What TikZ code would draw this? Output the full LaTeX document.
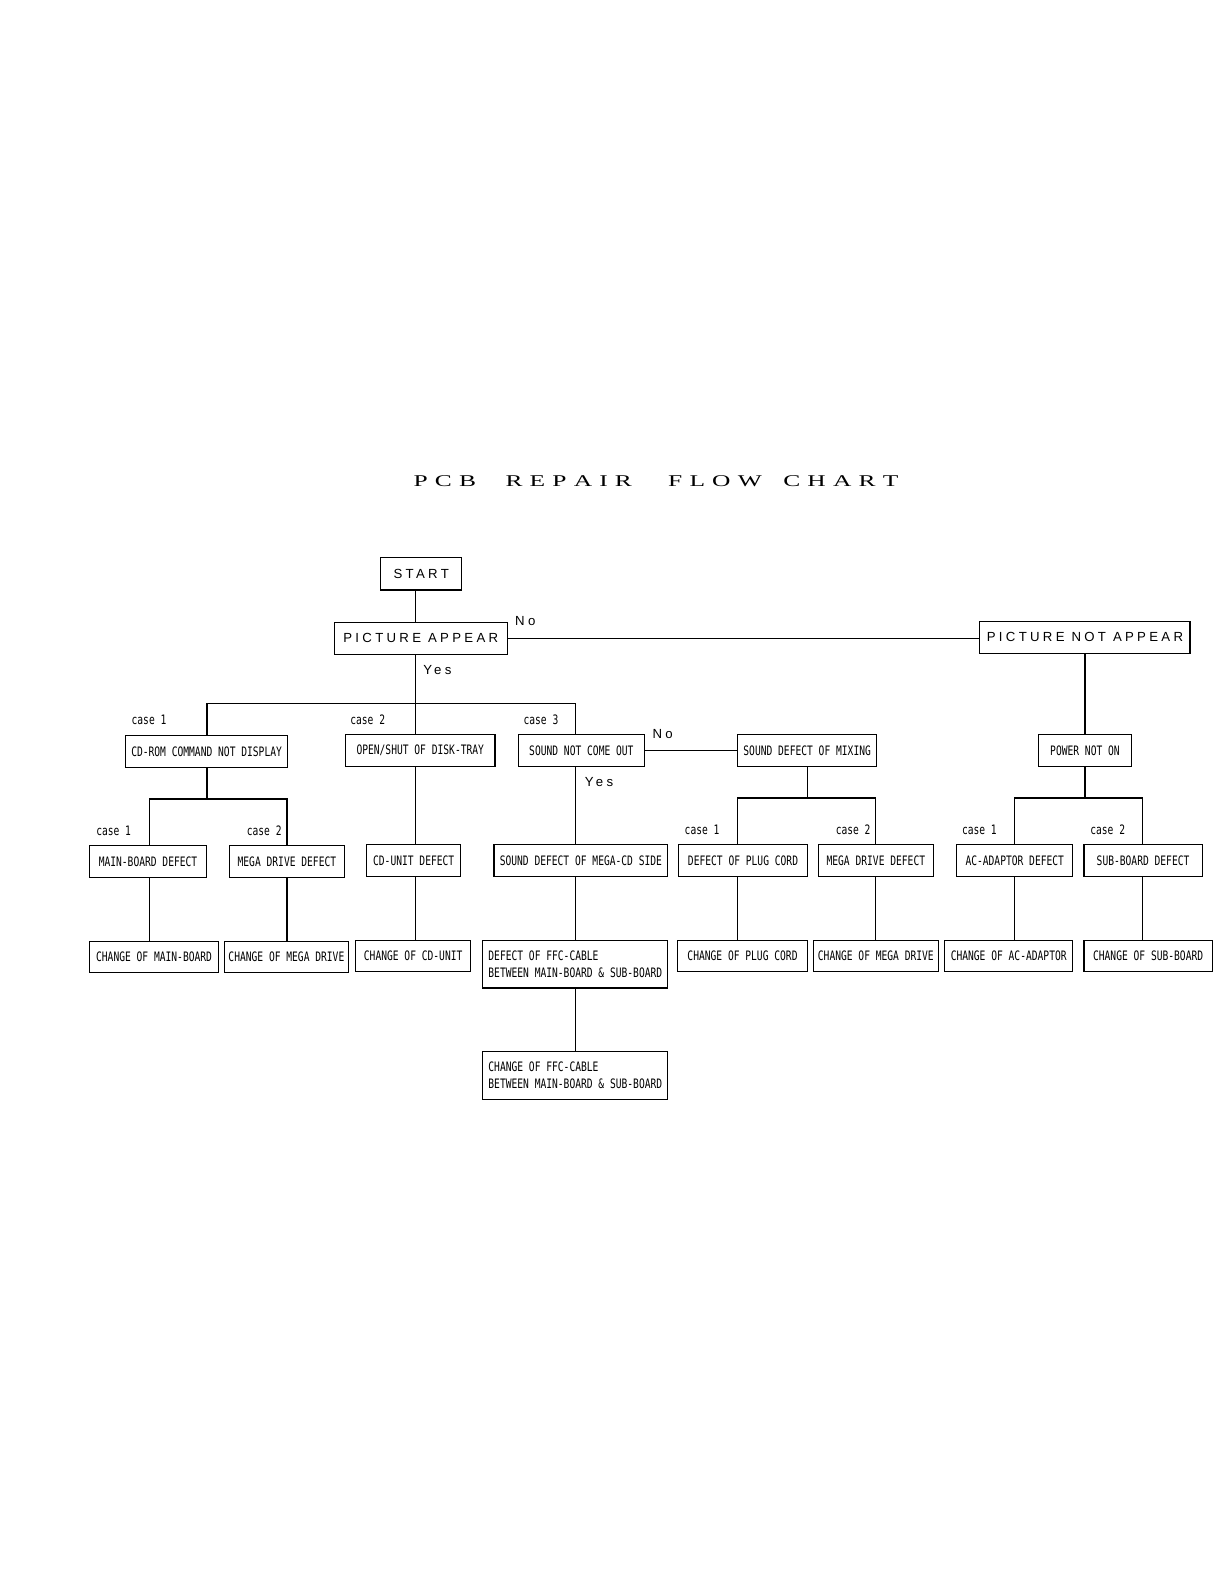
\documentclass[tikz,border=0pt]{standalone}
\usepackage{fontspec}
\newfontfamily\boxfont[FakeStretch=0.74]{DejaVu Sans Mono}
\newfontfamily\spfont[LetterSpace=25]{Liberation Sans}
\newfontfamily\ttlfont{Liberation Serif}
\def\pxu{0.50495pt}
\newcommand\tlet[1]{\scalebox{1.55}[1]{#1}}
\newcommand\tgap{\hskip 3.6pt}
\tikzset{
  box/.style={draw, line width=0.55pt, inner sep=0pt, font=\boxfont\fontsize{6.5}{8.3}\selectfont},
  lbl/.style={inner sep=0pt, font=\boxfont\fontsize{6.5}{8}\selectfont},
  sp/.style={inner sep=0pt, font=\spfont\fontsize{6.6}{8}\selectfont},
  ttl/.style={inner sep=0pt, anchor=base west, font=\ttlfont\fontsize{8.2}{10}\selectfont},
  conn/.style={line width=0.6pt}
}
\newcommand\bx[7][]{\node[box,#1,minimum width={(#5-#3)*\pxu},minimum height={(#6-#4)*\pxu}] (#2) at ({(#3+#5)/2},{(#4+#6)/2}) {#7};}
\begin{document}
\begin{tikzpicture}[x=\pxu,y=-\pxu]
\useasboundingbox[fill=white] (0,0) rectangle (1212,1568);
% title
\node[ttl] (t1) at (409,482) {\tlet{P}\tgap\tlet{C}\tgap\tlet{B}};
\node[ttl] (t2) at (500,482) {\tlet{R}\tgap\tlet{E}\tgap\tlet{P}\tgap\tlet{A}\tgap\tlet{I}\tgap\tlet{R}};
\node[ttl] (t3) at (661,482) {\tlet{F}\tgap\tlet{L}\tgap\tlet{O}\tgap\tlet{W}};
\node[ttl] (t4) at (775,482) {\tlet{C}\tgap\tlet{H}\tgap\tlet{A}\tgap\tlet{R}\tgap\tlet{T}};
% column / bus coordinates
\coordinate (c148) at (148,0); \coordinate (c205) at (205,0);
\coordinate (c284) at (284,0); \coordinate (c411) at (411,0);
\coordinate (c570) at (570,0); \coordinate (c730) at (730,0);
\coordinate (c799) at (799,0); \coordinate (c867) at (867,0);
\coordinate (c1004) at (1004,0); \coordinate (c1074) at (1074,0);
\coordinate (c1131) at (1131,0);
\coordinate (b1) at (0,696); \coordinate (b2) at (0,791); \coordinate (b3) at (0,790);
% boxes
\bx[font=\spfont\fontsize{6.6}{8}\selectfont]{start}{377}{552}{457}{584}{START}
\bx[font=\spfont\fontsize{6.6}{8}\selectfont]{pa}{331}{616}{502}{648}{PICTURE APPEAR}
\bx[font=\spfont\fontsize{6.6}{8}\selectfont]{pna}{970}{615}{1178}{647}{PICTURE NOT APPEAR}
\bx{cdrom}{124}{728}{285}{760}{CD-ROM COMMAND NOT DISPLAY}
\bx{open}{342}{727}{490}{759}{OPEN/SHUT OF DISK-TRAY}
\bx{snco}{513}{727}{638}{759}{SOUND NOT COME OUT}
\bx{sdom}{730}{727}{868}{759}{SOUND DEFECT OF MIXING}
\bx{pno}{1028}{727}{1120}{759}{POWER NOT ON}
\bx{mbd}{89}{837}{204}{869}{MAIN-BOARD DEFECT}
\bx{mdda}{227}{837}{341}{869}{MEGA DRIVE DEFECT}
\bx{cdu}{363}{836}{456}{868}{CD-UNIT DEFECT}
\bx{sdmc}{489}{836}{661}{868}{SOUND DEFECT OF MEGA-CD SIDE}
\bx{dpc}{672}{836}{799}{868}{DEFECT OF PLUG CORD}
\bx{mddb}{810}{836}{924}{868}{MEGA DRIVE DEFECT}
\bx{aca}{947}{836}{1062}{868}{AC-ADAPTOR DEFECT}
\bx{sbd}{1073}{836}{1190}{868}{SUB-BOARD DEFECT}
\bx{cmb}{89}{932}{216}{963}{CHANGE OF MAIN-BOARD}
\bx{cmda}{222}{932}{345}{963}{CHANGE OF MEGA DRIVE}
\bx{ccd}{352}{931}{466}{962}{CHANGE OF CD-UNIT}
\bx[align=left]{ffca}{478}{931}{661}{978}{DEFECT OF FFC-CABLE\\BETWEEN MAIN-BOARD \& SUB-BOARD}
\bx{cpc}{671}{931}{799}{962}{CHANGE OF PLUG CORD}
\bx{cmdb}{805}{931}{929}{962}{CHANGE OF MEGA DRIVE}
\bx{cac}{935}{931}{1062}{962}{CHANGE OF AC-ADAPTOR}
\bx{csb}{1073}{931}{1200}{962}{CHANGE OF SUB-BOARD}
\bx[align=left]{ffcb}{478}{1041}{661}{1088}{CHANGE OF FFC-CABLE\\BETWEEN MAIN-BOARD \& SUB-BOARD}
% labels
\node[sp] (no1) at (520,615) {No};
\node[sp] (yes1) at (433,663) {Yes};
\node[sp] (no2) at (656,727) {No};
\node[sp] (yes2) at (593,774) {Yes};
\node[lbl] (k1) at (147.5,713) {case 1};
\node[lbl] (k2) at (364,712) {case 2};
\node[lbl] (k3) at (535.5,712) {case 3};
\node[lbl] (k4) at (112.5,822) {case 1};
\node[lbl] (k5) at (261.5,822) {case 2};
\node[lbl] (k6) at (695,821) {case 1};
\node[lbl] (k7) at (844.5,821) {case 2};
\node[lbl] (k8) at (969.5,821) {case 1};
\node[lbl] (k9) at (1096.5,821) {case 2};
% connectors
\begin{scope}[conn]
\draw (start.south -| c411) -- (pa.north -| c411);
\draw (pa.east) -- (pa.east -| pna.west);
\draw (pa.south -| c411) -- (open.north -| c411);
\draw (cdrom.north -| c205) -- (c205 |- b1) -- (c570 |- b1) -- (snco.north -| c570);
\draw (snco.east) -- (snco.east -| sdom.west);
\draw (pna.south -| c1074) -- (pno.north -| c1074);
% CD-ROM branch
\draw (cdrom.south -| c205) -- (c205 |- b2);
\draw (mbd.north -| c148) -- (c148 |- b2) -- (c284 |- b2) -- (mdda.north -| c284);
\draw (mbd.south -| c148) -- (cmb.north -| c148);
\draw (mdda.south -| c284) -- (cmda.north -| c284);
% open/shut branch
\draw (open.south -| c411) -- (cdu.north -| c411);
\draw (cdu.south -| c411) -- (ccd.north -| c411);
% sound branch
\draw (snco.south -| c570) -- (sdmc.north -| c570);
\draw (sdmc.south -| c570) -- (ffca.north -| c570);
\draw (ffca.south -| c570) -- (ffcb.north -| c570);
% mixing branch
\draw (sdom.south -| c799) -- (c799 |- b3);
\draw (dpc.north -| c730) -- (c730 |- b3) -- (c867 |- b3) -- (mddb.north -| c867);
\draw (dpc.south -| c730) -- (cpc.north -| c730);
\draw (mddb.south -| c867) -- (cmdb.north -| c867);
% power branch
\draw (pno.south -| c1074) -- (c1074 |- b3);
\draw (aca.north -| c1004) -- (c1004 |- b3) -- (c1131 |- b3) -- (sbd.north -| c1131);
\draw (aca.south -| c1004) -- (cac.north -| c1004);
\draw (sbd.south -| c1131) -- (csb.north -| c1131);
\end{scope}
\end{tikzpicture}
\end{document}
